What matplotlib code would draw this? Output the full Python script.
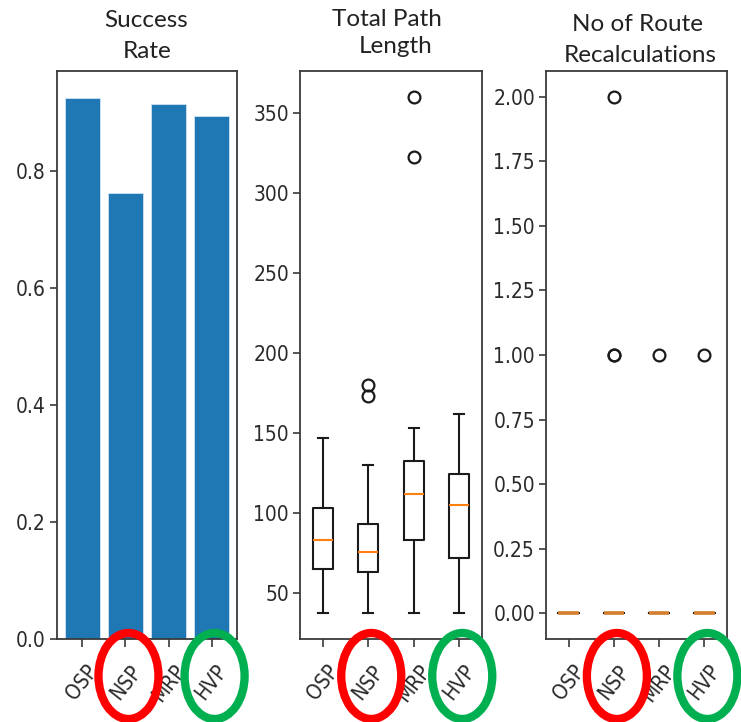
import matplotlib
matplotlib.use("Agg")
import matplotlib.pyplot as plt
from matplotlib import font_manager
from matplotlib.font_manager import FontProperties
from matplotlib.patches import Ellipse
from matplotlib.ticker import FormatStrFormatter

# ---- data ----
methods = ["OSP", "NSP", "MRP", "HVP"]
success_rate = [0.925, 0.763, 0.915, 0.894]

# total path length: box statistics per method
path_whislo = [37.5, 37.5, 37.5, 37.5]
path_q1 = [65.0, 63.0, 83.0, 72.0]
path_med = [83.0, 76.0, 112.0, 105.0]
path_q3 = [103.0, 93.0, 132.5, 124.5]
path_whishi = [147.0, 130.0, 153.0, 162.0]
path_fliers = [[], [173.0, 180.0], [322.5, 360.0], []]

# number of route recalculations: box statistics per method
recalc_whislo = [0.0, 0.0, 0.0, 0.0]
recalc_q1 = [0.0, 0.0, 0.0, 0.0]
recalc_med = [0.0, 0.0, 0.0, 0.0]
recalc_q3 = [0.0, 0.0, 0.0, 0.0]
recalc_whishi = [0.0, 0.0, 0.0, 0.0]
recalc_fliers = [[], [1.0, 1.0, 2.0], [1.0], [1.0]]

title_lines = [["Success", "Rate"], ["Total Path", "Length"], ["No of Route", "Recalculations"]]
highlight = {"NSP": "#ff0000", "HVP": "#00b050"}

# ---- fonts ----
installed = {f.name for f in font_manager.fontManager.ttflist}
title_family = "Lato" if "Lato" in installed else "DejaVu Sans"


def find_narrow_font():
    # prefer a condensed regular face for the tick labels
    for f in font_manager.fontManager.ttflist:
        fn = f.fname.lower()
        if f.style != "normal" or "bold" in fn or "oblique" in fn or "italic" in fn:
            continue
        if "dejavusanscondensed" in fn.replace("-", ""):
            return f.fname
    for f in font_manager.fontManager.ttflist:
        fn = f.fname.lower()
        if f.style != "normal" or "bold" in fn or "italic" in fn:
            continue
        if "narrow" in fn or "condensed" in fn:
            return f.fname
    return None


narrow_path = find_narrow_font()
TICK_SIZE = 15
if narrow_path:
    tick_fp = FontProperties(fname=narrow_path, size=TICK_SIZE)
else:
    tick_fp = FontProperties(family="DejaVu Sans", size=13)

W, H = 741, 722
fig = plt.figure(figsize=(W / 100, H / 100), dpi=100)


def px_axes(left, right, top, bottom):
    return fig.add_axes([left / W, 1 - bottom / H, (right - left) / W, (bottom - top) / H])


ax1 = px_axes(57, 237, 71, 639)
ax2 = px_axes(300, 482, 71, 639)
ax3 = px_axes(546, 727, 71, 639)

# success rate bars
x_pos = list(range(len(methods)))
ax1.bar(x_pos, success_rate, width=0.8, color="#1f77b4", edgecolor="#cfe3f3", linewidth=0.6)
ax1.set_xticks(x_pos)
ax1.set_xticklabels(methods)
ax1.set_yticks([0.0, 0.2, 0.4, 0.6, 0.8])


def make_stats(lo, q1, med, q3, hi, fl):
    return [dict(label=m, whislo=lo[i], q1=q1[i], med=med[i], q3=q3[i],
                 whishi=hi[i], fliers=fl[i]) for i, m in enumerate(methods)]


line_kw = dict(color="#1a1a1a", linewidth=1.5)
flier_kw = dict(marker="o", markerfacecolor="none", markeredgecolor="#1a1a1a",
                markersize=8.5, markeredgewidth=1.6, linestyle="none")

ax2.bxp(make_stats(path_whislo, path_q1, path_med, path_q3, path_whishi, path_fliers),
        positions=[1, 2, 3, 4], widths=0.45,
        boxprops=line_kw, whiskerprops=line_kw, capprops=line_kw,
        medianprops=dict(color="#ff7f0e", linewidth=1.5), flierprops=flier_kw)
ax2.set_yticks([50, 100, 150, 200, 250, 300, 350])

ax3.bxp(make_stats(recalc_whislo, recalc_q1, recalc_med, recalc_q3, recalc_whishi, recalc_fliers),
        positions=[1, 2, 3, 4], widths=0.45,
        boxprops=line_kw, whiskerprops=line_kw, capprops=line_kw,
        medianprops=dict(color="#d4802e", linewidth=2.6), flierprops=flier_kw)
ax3.set_yticks([0.0, 0.25, 0.5, 0.75, 1.0, 1.25, 1.5, 1.75, 2.0])
ax3.yaxis.set_major_formatter(FormatStrFormatter("%.2f"))

for ax in (ax2, ax3):
    ax.set_xticks([1, 2, 3, 4])
    ax.set_xticklabels(methods)

for ax in (ax1, ax2, ax3):
    for sp in ax.spines.values():
        sp.set_linewidth(1.3)
        sp.set_color("#3a3a3a")
    ax.tick_params(axis="y", length=5, width=1.2, color="#3a3a3a", pad=3,
                   labelcolor="#2a2a2a")
    ax.tick_params(axis="x", length=6, width=1.2, color="#3a3a3a", pad=10,
                   labelcolor="#2a2a2a", labelrotation=52)
    for lab in ax.get_xticklabels() + ax.get_yticklabels():
        lab.set_fontproperties(tick_fp)
    for lab in ax.get_xticklabels():
        lab.set_horizontalalignment("center")

# two-line titles above each panel: (x centre, baseline) in pixels
title_pos = [[(146, 27), (147, 58)], [(387, 26), (396, 53)], [(637, 31), (640, 62)]]
for lines, poss in zip(title_lines, title_pos):
    for txt, (tx, ty) in zip(lines, poss):
        fig.text(tx / W, 1 - ty / H, txt, ha="center", va="baseline",
                 family=title_family, fontsize=17.5, color="#222222")

# rings around the NSP and HVP labels of every panel
ring_cy = 676
for ax in (ax1, ax2, ax3):
    ticks = ax.get_xticks()
    for name, col in highlight.items():
        xi = ticks[methods.index(name)]
        cx_disp = ax.transData.transform((xi, 0))[0]
        ring = Ellipse((cx_disp / 100 + 0.03, (H - ring_cy) / 100), 0.60, 0.86,
                       transform=fig.dpi_scale_trans, fill=False, edgecolor=col,
                       linewidth=6.0, clip_on=False, zorder=10)
        fig.add_artist(ring)

fig.savefig("out.png", dpi=100)
